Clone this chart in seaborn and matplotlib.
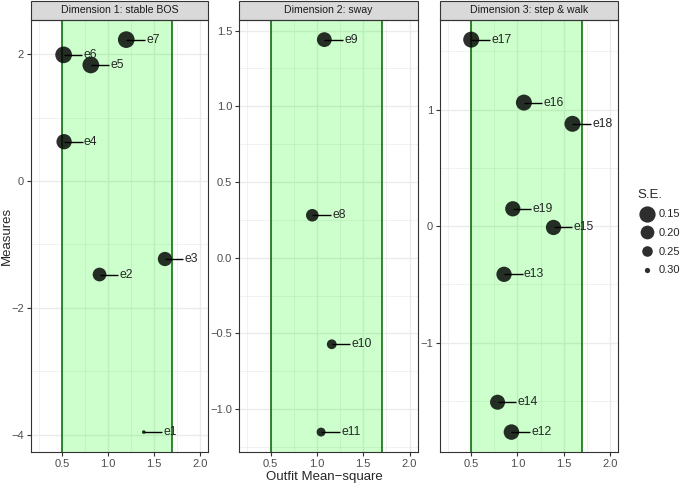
import numpy as np
import pandas as pd
import matplotlib
matplotlib.use("Agg")
import matplotlib.pyplot as plt
import matplotlib.ticker as mticker
from matplotlib.patches import Rectangle
from matplotlib.lines import Line2D
import seaborn as sns

# ── Data ──────────────────────────────────────────────────────────────────────
items = ["e1", "e2", "e3", "e4", "e5", "e6", "e7",
         "e8", "e9", "e10", "e11",
         "e12", "e13", "e14", "e15", "e16", "e17", "e18", "e19"]
dimension = (["Dimension 1: stable BOS"] * 7
             + ["Dimension 2: sway"] * 4
             + ["Dimension 3: step & walk"] * 8)
outfit = [1.39, 0.91, 1.62, 0.525, 0.815, 0.52, 1.20,
          0.95, 1.08, 1.16, 1.045,
          0.935, 0.855, 0.785, 1.39, 1.07, 0.50, 1.595, 0.95]
measure = [-3.96, -1.475, -1.23, 0.62, 1.83, 1.99, 2.23,
           0.28, 1.44, -0.572, -1.152,
           -1.766, -0.413, -1.51, -0.011, 1.06, 1.60, 0.878, 0.149]
se = [0.307, 0.20, 0.19, 0.17, 0.14, 0.14, 0.14,
      0.22, 0.18, 0.26, 0.27,
      0.165, 0.17, 0.175, 0.17, 0.155, 0.155, 0.155, 0.17]

panels = ["Dimension 1: stable BOS", "Dimension 2: sway", "Dimension 3: step & walk"]
legend_se = [0.15, 0.20, 0.25, 0.30]

df = pd.DataFrame({"item": items, "dim": dimension, "outfit": outfit,
                   "measure": measure, "se": se})

# ── Style ─────────────────────────────────────────────────────────────────────
sns.set_style("white")
plt.rcParams["font.family"] = ["Liberation Sans", "DejaVu Sans"]

GRID = "#EBEBEB"
DARK = "#333333"


def se_diameter(v):
    """Smaller S.E. -> bigger point (diameter in px)."""
    return 1.6 + 15.1 * np.sqrt(max(0.31 - v, 0) / 0.17)


def se_area(v):
    return (se_diameter(v) * 0.72) ** 2


sizes = {v: se_area(v) for v in sorted(set(se))}

fig = plt.figure(figsize=(6.85, 4.83), dpi=100)
W, H = 685, 483
boxes = [(30.7, 177.3), (239.3, 178.4), (440.0, 178.0)]
top_px, bot_px = 20.0, 451.7
strip_h = 19.0 / (bot_px - top_px)

ylocs = [(2, 1), (0.5, 0.25), (1, 0.5)]

for name, (x0, w), (maj, mnr) in zip(panels, boxes, ylocs):
    ax = fig.add_axes([x0 / W, (H - bot_px) / H, w / W, (bot_px - top_px) / H])
    sub = df[df["dim"] == name]

    ax.axvspan(0.5, 1.7, color="#00FF00", alpha=0.2, lw=0, zorder=1)
    for xv in (0.5, 1.7):
        ax.axvline(xv, color="darkgreen", lw=1.1, zorder=2)

    sns.scatterplot(data=sub, x="outfit", y="measure", size="se", sizes=sizes,
                    color="black", alpha=0.82, edgecolor="none", linewidth=0,
                    legend=False, ax=ax, zorder=3)

    for _, r in sub.iterrows():
        ax.plot([r["outfit"], r["outfit"] + 0.2], [r["measure"], r["measure"]],
                color="black", lw=1.0, zorder=4, solid_capstyle="butt")
        ax.text(r["outfit"] + 0.215, r["measure"], r["item"], fontsize=8.8,
                ha="left", va="center", zorder=5)

    lo, hi = sub["measure"].min(), sub["measure"].max()
    pad = 0.05 * (hi - lo)
    ax.set_ylim(lo - pad, hi + pad)
    ax.set_xlim(0.1625, 2.0875)

    ax.xaxis.set_major_locator(mticker.MultipleLocator(0.5))
    ax.xaxis.set_minor_locator(mticker.MultipleLocator(0.25))
    ax.xaxis.set_major_formatter(mticker.FormatStrFormatter("%.1f"))
    ax.yaxis.set_major_locator(mticker.MultipleLocator(maj))
    ax.yaxis.set_minor_locator(mticker.MultipleLocator(mnr))

    ax.set_axisbelow(True)
    ax.grid(which="major", color=GRID, lw=1.0)
    ax.grid(which="minor", color=GRID, lw=0.5)
    ax.tick_params(which="major", length=3, width=0.8, color=DARK,
                   labelsize=8, labelcolor="#4D4D4D", pad=2,
                   bottom=True, left=True)
    ax.tick_params(which="minor", length=0)
    for sp in ax.spines.values():
        sp.set_color(DARK)
        sp.set_linewidth(0.8)
    ax.set_xlabel("")
    ax.set_ylabel("")

    ax.add_patch(Rectangle((0, 1), 1, strip_h, transform=ax.transAxes,
                           clip_on=False, facecolor="#D9D9D9",
                           edgecolor=DARK, lw=0.8))
    ax.text(0.5, 1 + strip_h / 2, name, transform=ax.transAxes,
            ha="center", va="center", fontsize=7.6, color="#1A1A1A")

fig.text(324.5 / W, 1 - 477 / H, "Outfit Mean\u2212square",
         ha="center", va="center", fontsize=9.5)
fig.text(7 / W, 1 - 236 / H, "Measures", rotation=90,
         ha="center", va="center", fontsize=9.5)

handles = [Line2D([], [], marker="o", linestyle="", color="black", alpha=0.82,
                  markeredgewidth=0, markersize=se_diameter(v) * 0.72)
           for v in legend_se]
leg = fig.legend(handles, [f"{v:.2f}" for v in legend_se], title="S.E.",
                 loc="upper left", bbox_to_anchor=(630 / W, 1 - 181 / H),
                 frameon=False, fontsize=8, title_fontsize=9.5,
                 handletextpad=0.3, labelspacing=0.78, borderpad=0.2,
                 handlelength=1.6)
leg._legend_box.align = "left"

fig.savefig("out.png", dpi=100)
